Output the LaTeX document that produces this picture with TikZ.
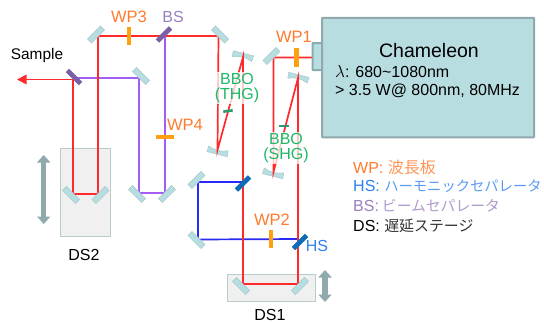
\documentclass[tikz,border=0pt]{standalone}
\usepackage{fontspec}
\setmainfont{Liberation Sans}
\newfontfamily\jpfont{Noto Sans CJK JP}
\usetikzlibrary{arrows.meta}
\definecolor{mfill}{HTML}{B7DDE1}
\definecolor{mdraw}{HTML}{A5C8CC}
\definecolor{gframe}{HTML}{8FA9AC}
\definecolor{stagefill}{HTML}{F0F0F0}
\definecolor{stagedraw}{HTML}{B8CCCE}
\definecolor{redbeam}{HTML}{FF2A2A}
\definecolor{bluebeam}{HTML}{2A2AF5}
\definecolor{purplebeam}{HTML}{A55CF5}
\definecolor{wporange}{HTML}{FF7A2E}
\definecolor{wpbar}{HTML}{FFA010}
\definecolor{hsblue}{HTML}{2E80F0}
\definecolor{hsbar}{HTML}{0B6CB8}
\definecolor{bspurple}{HTML}{9A80BE}
\definecolor{bsbar}{HTML}{7A5FA5}
\definecolor{bbogreen}{HTML}{1DB866}
\definecolor{bbobar}{HTML}{2E9A70}
\tikzset{
  mirror/.style={draw=mdraw,fill=mfill,line width=0.5pt,minimum width=18.5pt,minimum height=5.8pt,inner sep=0pt,outer sep=0pt},
  bsplate/.style={fill=bsbar,minimum width=18.5pt,minimum height=4.8pt,inner sep=0pt,outer sep=0pt},
  hsplate/.style={fill=hsbar,minimum width=18.5pt,minimum height=4.8pt,inner sep=0pt,outer sep=0pt},
  waveplate/.style={fill=wpbar,minimum width=18.5pt,minimum height=4.5pt,inner sep=0pt,outer sep=0pt},
  bbobarstyle/.style={fill=bbobar,minimum width=9.5pt,minimum height=2.6pt,inner sep=0pt,outer sep=0pt},
  stage/.style={draw=stagedraw,fill=stagefill,line width=0.8pt,inner sep=0pt,outer sep=0pt},
  redb/.style={draw=redbeam,line width=1.7pt},
  blueb/.style={draw=bluebeam,line width=1.7pt},
  purpb/.style={draw=purplebeam,line width=1.7pt},
  wplabel/.style={text=wporange,font=\fontsize{16.5}{18}\selectfont,inner sep=0pt},
  bslabel/.style={text=bspurple,font=\fontsize{16}{18}\selectfont,inner sep=0pt},
  hslabel/.style={text=hsblue,font=\fontsize{16}{18}\selectfont,inner sep=0pt},
  blklabel/.style={text=black,font=\fontsize{16}{18}\selectfont,inner sep=0pt},
  bbolabel/.style={text=bbogreen,font=\fontsize{16}{15.5}\selectfont,align=center,fill=white,fill opacity=0.75,text opacity=1,inner xsep=1pt,inner ysep=1pt},
  legendtext/.style={anchor=west,font=\fontsize{16}{18}\selectfont,inner sep=0pt},
  shift arrow/.style={draw=gframe,line width=5.5pt,{Triangle[length=7.5pt,width=13pt]}-{Triangle[length=7.5pt,width=13pt]}},
  laserbox/.style={draw=gframe,fill=mfill,line width=2pt,inner sep=0pt,outer sep=0pt,rounded corners=0.5pt},
  curved/.style={draw=mdraw,fill=mfill,line width=0.5pt},
}
\newcommand{\curvedmirror}[4]{%
  % #1 x, #2 y of the point the beam meets, #3 rotation, #4 side the beam comes from (1 below, -1 above)
  \begin{scope}[shift={(#1,#2)},rotate=#3]
    \path[curved] (-10,#4*2.2) .. controls (-4,-#4*0.7) and (4,-#4*0.7) .. (10,#4*2.2) -- (10.5,-#4*3.8) -- (-10.5,-#4*3.8) -- cycle;
  \end{scope}}
\begin{document}
\begin{tikzpicture}[x=1pt,y=-1pt]
\useasboundingbox (0,0) rectangle (544,322);
% stages
\node[stage,minimum width=50pt,minimum height=88pt] (ds2stage) at (85,192) {};
\node[stage,minimum width=88pt,minimum height=27pt] (ds1stage) at (271,287.5) {};
% beam points
\coordinate (laser) at (313,57.5);
\coordinate (p1) at (273.5,57.5);
\coordinate (p2) at (273.5,172);
\coordinate (p3) at (298,78);
\coordinate (p4) at (298,284);
\coordinate (p5) at (243,284);
\coordinate (p6) at (243,57);
\coordinate (p7) at (217.5,150);
\coordinate (p8) at (218.5,36);
\coordinate (p9) at (98,36);
\coordinate (p10) at (98,194);
\coordinate (p11) at (73,194);
\coordinate (p12) at (73,79.5);
\coordinate (out) at (17,79.5);
\coordinate (b1) at (165,36);
\coordinate (b2) at (165,193);
\coordinate (b3) at (139,193);
\coordinate (b4) at (139,78);
\coordinate (b5) at (74,78);
\coordinate (h1) at (298,239);
\coordinate (h2) at (198,239.5);
\coordinate (h3) at (198,182);
\coordinate (h4) at (243,182);
% curved mirrors
\curvedmirror{242.5}{57}{-14}{1}
\curvedmirror{218}{150.5}{-14}{-1}
\curvedmirror{298}{78.5}{-14}{1}
\curvedmirror{273.5}{172.5}{-14}{-1}
% beams
\draw[blueb] (h1) -- (h2) -- (h3) -- (h4);
\draw[purpb] (b1) -- (b2) -- (b3) -- (b4) -- (b5);
\draw[redb,line join=miter] (laser) -- (p1) -- (p2) -- (p3) -- (p4) -- (p5) -- (p6) -- (p7) -- (p8) -- (p9) -- (p10) -- (p11) -- (p12);
\draw[draw=redbeam,line width=1.7pt,-{Triangle[length=9.5pt,width=9.5pt]}] (p12) -- (out);
% flat mirrors
\node[mirror,rotate=45] (m1) at (96,34.5) {};
\node[mirror,rotate=-45] (m2) at (220,34.5) {};
\node[mirror,rotate=-45] (m3) at (141,76) {};
\node[mirror,rotate=-45] (m4) at (71,195) {};
\node[mirror,rotate=45] (m5) at (100.5,195) {};
\node[mirror,rotate=-45] (m6) at (137,194) {};
\node[mirror,rotate=45] (m7) at (167,194) {};
\node[mirror,rotate=45] (m8) at (196.5,180) {};
\node[mirror,rotate=-45] (m9) at (196.5,240) {};
\node[mirror,rotate=45] (m10) at (271.5,56) {};
\node[mirror,rotate=-45] (m11) at (241,286) {};
\node[mirror,rotate=45] (m12) at (300,286) {};
% splitters
\node[bsplate,rotate=45] (bs1) at (164,34.5) {};
\node[bsplate,rotate=-45] (bs2) at (74,77) {};
\node[hsplate,rotate=45] (hs1) at (243,183.5) {};
\node[hsplate,rotate=45] (hs2) at (300,242) {};
% wave plates
\node[waveplate,rotate=90] (wp3) at (129,36) {};
\node[waveplate] (wp4) at (165,137) {};
\node[waveplate,rotate=90] (wp1) at (296.5,57.5) {};
\node[waveplate,rotate=90] (wp2) at (271,239) {};
% bbo crystals
\node[bbobarstyle,rotate=8] (bbo1) at (228,111) {};
\node[bbobarstyle] (bbo2) at (284,126) {};
% laser
\node[laserbox,minimum width=10pt,minimum height=27pt] (tab) at (317.5,56.5) {};
\node[laserbox,minimum width=212pt,minimum height=119.5pt] (laserbody) at (428,77.5) {};
% labels
\node[bbolabel] (thg) at (237,88) {BBO\\(THG)};
\node[bbolabel] (shg) at (286,148) {BBO\\(SHG)};
\node[wplabel] (lwp3) at (129,17) {WP3};
\node[bslabel] (lbs) at (173,17) {BS};
\node[wplabel] (lwp4) at (185,125) {WP4};
\node[wplabel] (lwp1) at (294,36.5) {WP1};
\node[wplabel] (lwp2) at (272,220) {WP2};
\node[hslabel] (lhs) at (317,246) {HS};
\node[blklabel,font=\fontsize{15.4}{18}\selectfont] (lsample) at (37,56) {Sample};
\node[blklabel] (lds2) at (84,255) {DS2};
\node[blklabel] (lds1) at (270,314.5) {DS1};
% laser text
\node[text=black,font=\fontsize{19.5}{22}\selectfont,inner sep=0pt] (cham) at (429,50.5) {Chameleon};
\node[anchor=west,text=black,font=\fontsize{16}{18}\selectfont,inner sep=0pt] (lam) at (335,71.5) {$\lambda$: 680\textasciitilde 1080nm};
\node[anchor=west,text=black,font=\fontsize{16}{18}\selectfont,inner sep=0pt] (pow) at (335,91) {> 3.5 W@ 800nm, 80MHz};
% stage arrows
\coordinate (a1) at (43.7,155);
\coordinate (a2) at (43.7,224);
\coordinate (a3) at (325,270);
\coordinate (a4) at (325,302);
\draw[shift arrow] (a1) -- (a2);
\draw[shift arrow] (a3) -- (a4);
% legend
\node[legendtext,text=wporange] (l1) at (353,167) {WP: {\jpfont\fontsize{16}{18}\selectfont\color{wporange!80}波長板}};
\node[legendtext,text=hsblue] (l2) at (353,186.5) {HS: {\jpfont\fontsize{14.3}{18}\selectfont\color{hsblue!80}ハーモニックセパレータ}};
\node[legendtext,text=bspurple] (l3) at (353,206) {BS:\hspace{3pt}{\jpfont\fontsize{14.8}{18}\selectfont\color{bspurple!80}ビームセパレータ}};
\node[legendtext,text=black] (l4) at (353,225.5) {DS: {\jpfont\fontsize{14.9}{18}\selectfont\color{black!80}遅延ステージ}};
\end{tikzpicture}
\end{document}
